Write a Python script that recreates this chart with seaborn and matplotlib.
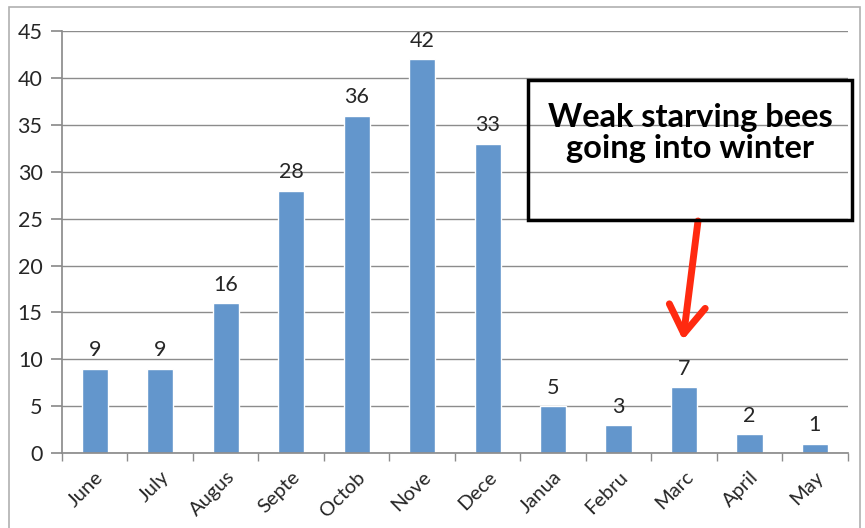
import numpy as np
import pandas as pd
import seaborn as sns
import matplotlib.pyplot as plt
from matplotlib.patches import Rectangle

# ── Data ──────────────────────────────────────────────────────────────────
months = ["June", "July", "Augus", "Septe", "Octob", "Nove",
          "Dece", "Janua", "Febru", "Marc", "April", "May"]
counts = [9, 9, 16, 28, 36, 42, 33, 5, 3, 7, 2, 1]
y_ticks = [0, 5, 10, 15, 20, 25, 30, 35, 40, 45]

note_text = "Weak starving bees\ngoing into winter"

BAR_COLOR = "#6396CC"
GRID_COLOR = "#8C8C8C"
TEXT_COLOR = "#262626"

sns.set_theme(style="white")
plt.rcParams["font.family"] = ["Lato", "DejaVu Sans"]

df = pd.DataFrame({"month": months, "count": counts})

fig = plt.figure(figsize=(8.65, 5.28), dpi=100)
ax = fig.add_axes([0.0717, 0.142, 0.9083, 0.799])

sns.barplot(data=df, x="month", y="count", color=BAR_COLOR,
            saturation=1, width=0.4, ax=ax)

# value labels
ax.bar_label(ax.containers[0], fmt="%d", padding=6, fontsize=15.5, color=TEXT_COLOR)

# ── Axes styling ──────────────────────────────────────────────────────────
ax.set_ylim(0, 45)
ax.set_xlim(-0.5, len(months) - 0.5)
ax.set_yticks(y_ticks)
ax.set_xlabel("")
ax.set_ylabel("")
ax.yaxis.grid(True, color=GRID_COLOR, linewidth=1)
ax.set_axisbelow(True)
for side in ["top", "right"]:
    ax.spines[side].set_visible(False)
ax.spines["left"].set_color(GRID_COLOR)
ax.spines["bottom"].set_color(GRID_COLOR)

ax.tick_params(axis="y", length=8, color=GRID_COLOR, labelsize=15.5,
               labelcolor=TEXT_COLOR, pad=6, left=True)
ax.set_xticks(np.arange(-0.5, len(months) + 0.5, 1), minor=True)
ax.tick_params(axis="x", which="minor", length=6, color=GRID_COLOR, bottom=True)
ax.tick_params(axis="x", which="major", length=0, labelsize=14.5,
               labelcolor=TEXT_COLOR, pad=11)
for lab in ax.get_xticklabels():
    lab.set_rotation(45)
    lab.set_ha("right")
    lab.set_rotation_mode("anchor")

# ── Annotation box + arrow ────────────────────────────────────────────────
fig.text(690 / 865, 1 - 133 / 528, note_text, ha="center", va="center",
         fontsize=23.5, fontweight="bold", color="black", linespacing=1.12)
fig.patches.append(Rectangle((528 / 865, 1 - 220 / 528), 324 / 865, 140 / 528,
                             transform=fig.transFigure, fill=False,
                             edgecolor="black", linewidth=2.5, zorder=5))
ax.annotate("", xy=(683 / 865, 1 - 340 / 528), xycoords="figure fraction",
            xytext=(698 / 865, 1 - 221 / 528), textcoords="figure fraction",
            arrowprops=dict(arrowstyle="->,head_length=1.0,head_width=0.65",
                            mutation_scale=20, color="#FF2A10", linewidth=5,
                            shrinkA=0, shrinkB=0))

# outer frame
fig.patches.append(Rectangle((9 / 865, -0.02), 851 / 865, 1 - 7 / 528 + 0.02,
                             transform=fig.transFigure, fill=False,
                             edgecolor="#B0B0B0", linewidth=1.2))

fig.savefig("out.png", dpi=100)
